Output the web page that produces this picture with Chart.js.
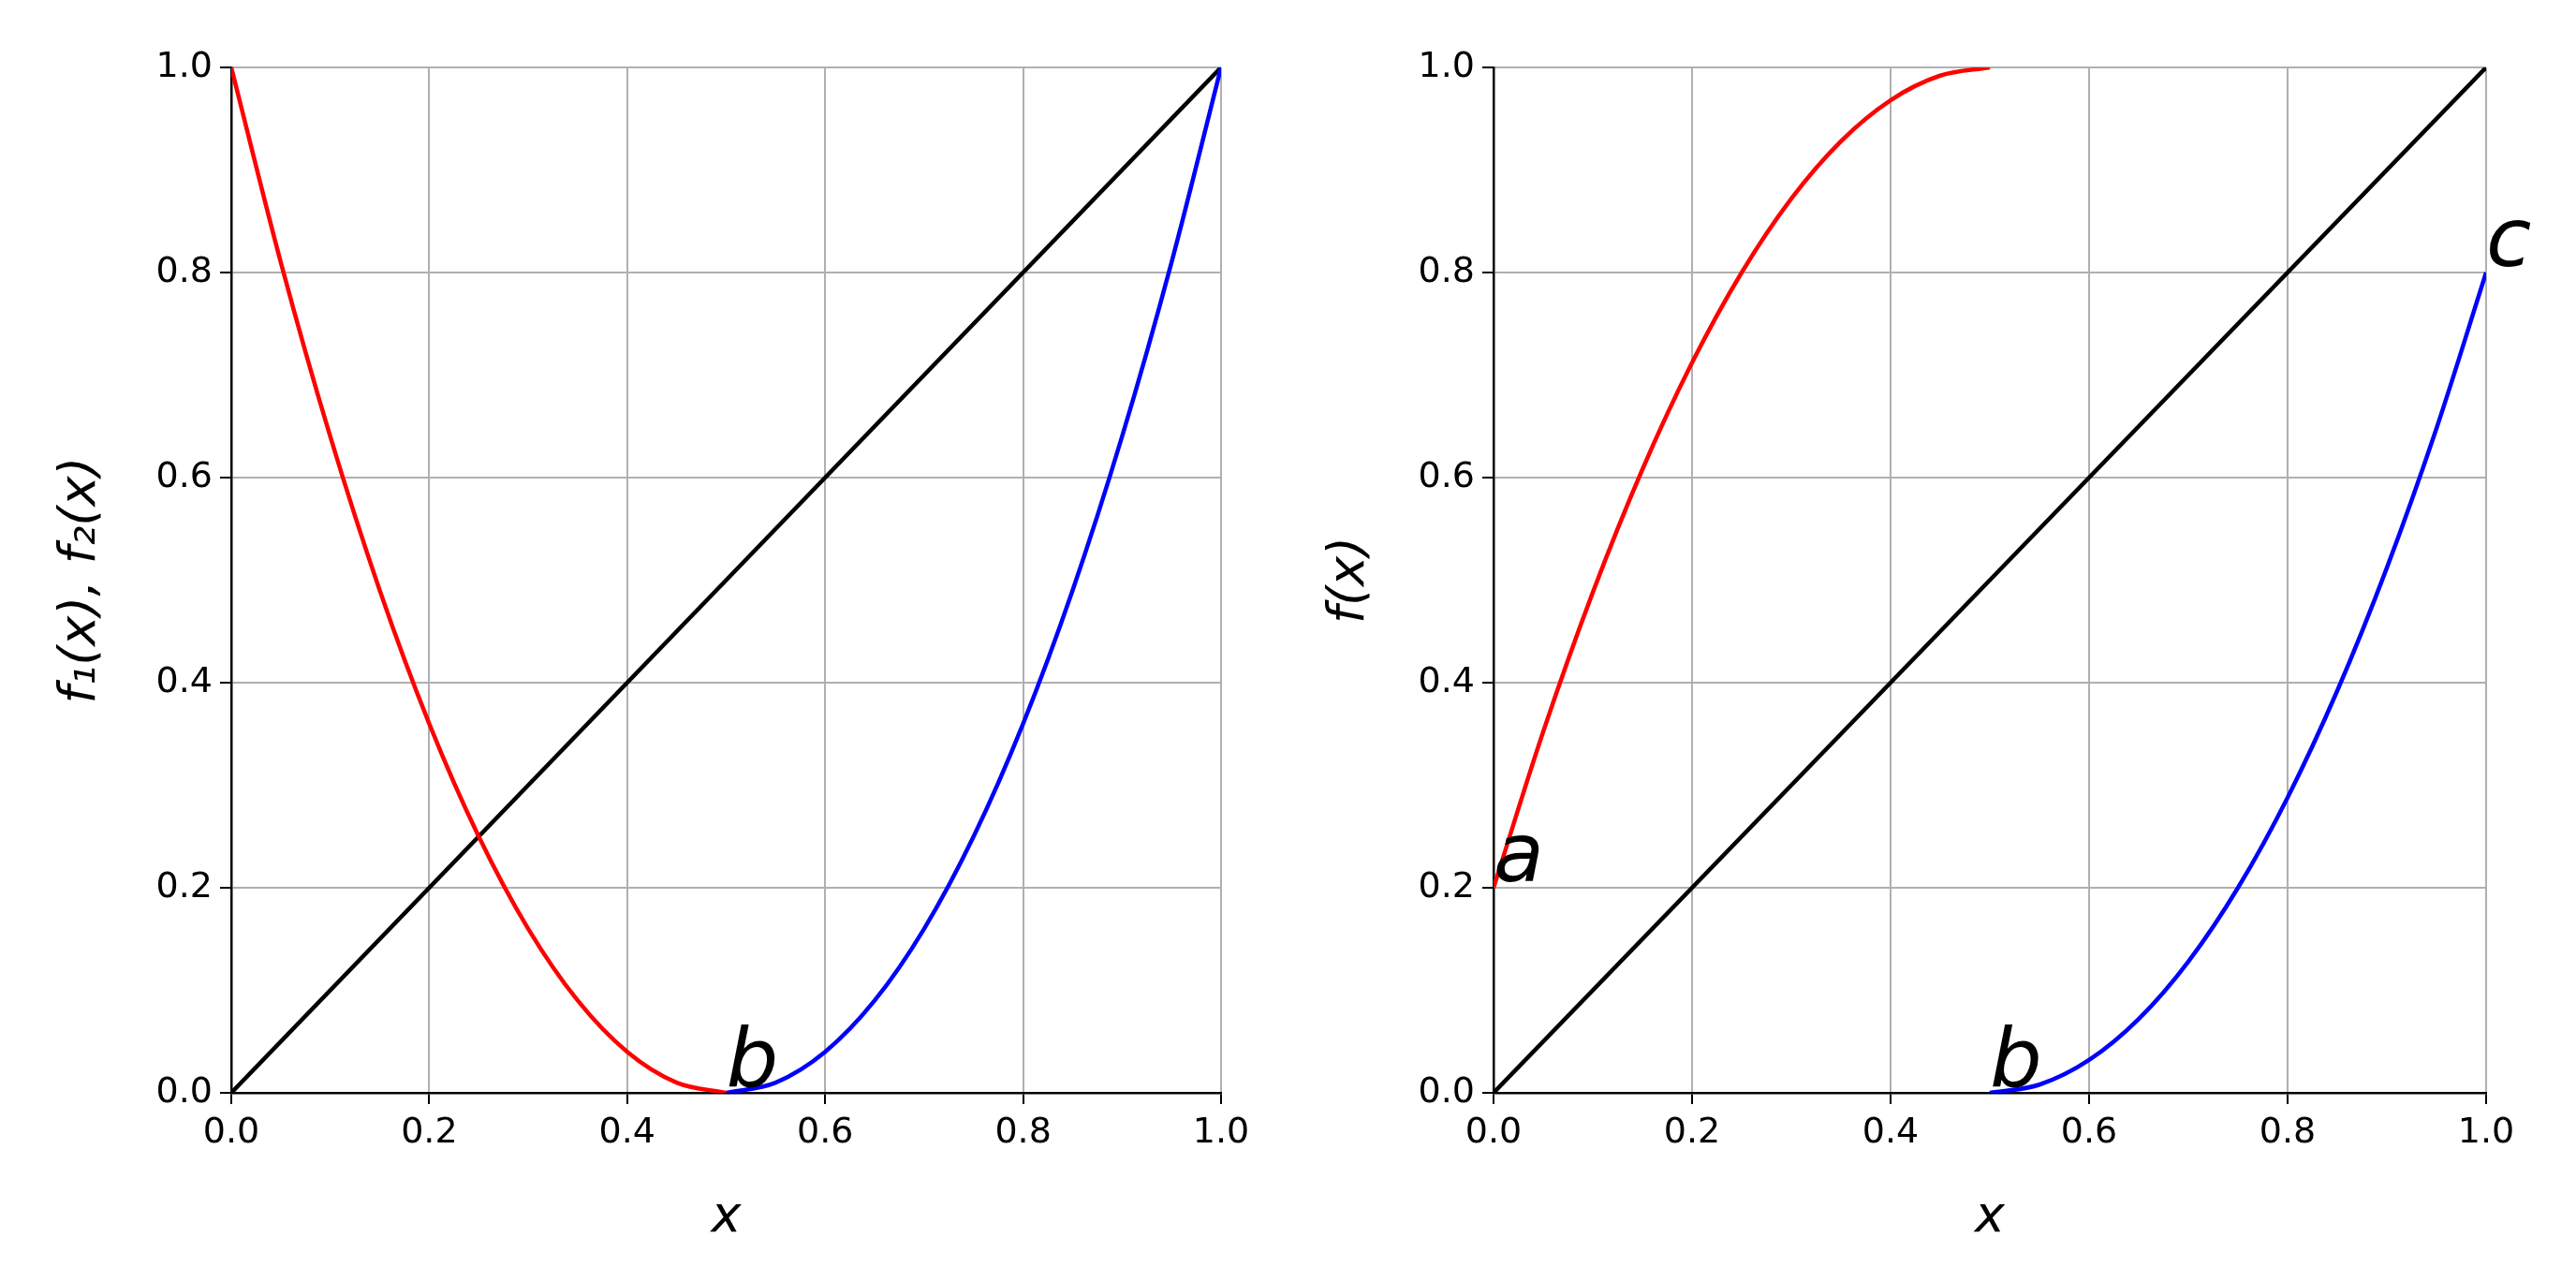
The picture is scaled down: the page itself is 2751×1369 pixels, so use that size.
<!DOCTYPE html>
<html><head>
<script src="https://cdn.jsdelivr.net/npm/chart.js@4"></script>
<style>
body{margin:0;background:#fff;width:2751px;height:1369px;position:relative;overflow:hidden}
.box{position:absolute;top:0;height:1369px}
</style></head>
<body>
<div class="box" style="left:0;width:1375px"><canvas id="c1"></canvas></div>
<div class="box" style="left:1375px;width:1376px"><canvas id="c2"></canvas></div>
<script>
// values
const xsLeft = [0,0.05,0.1,0.15,0.2,0.25,0.3,0.35,0.4,0.45,0.5];
const xsRight = [0.5,0.55,0.6,0.65,0.7,0.75,0.8,0.85,0.9,0.95,1];
const f1 = [1,0.81,0.64,0.49,0.36,0.25,0.16,0.09,0.04,0.01,0];
const f2 = [0,0.01,0.04,0.09,0.16,0.25,0.36,0.49,0.64,0.81,1];
const g1 = [0.2,0.352,0.488,0.608,0.712,0.8,0.872,0.928,0.968,0.992,1];
const g2 = [0,0.008,0.032,0.072,0.128,0.2,0.288,0.392,0.512,0.648,0.8];
const diag = [[0,0],[1,1]];
const ticks = [0,0.2,0.4,0.6,0.8,1];

const FONT = 'DejaVu Sans';
Chart.defaults.font.family = FONT;
Chart.defaults.color = '#000';

function pts(xs, ys){ return xs.map((x,i)=>({x, y:ys[i]})); }

const labelsPlugin = {
  id:'letters',
  afterDraw(chart){
    const ls = chart.options.plugins.letters.items || [];
    const c = chart.ctx, xs = chart.scales.x, ys = chart.scales.y;
    c.save();
    c.font = 'italic 88px ' + FONT;
    c.fillStyle = '#000';
    c.textBaseline = 'bottom';
    ls.forEach(l=>{
      c.textAlign = l.align || 'left';
      c.fillText(l.t, xs.getPixelForValue(l.x), ys.getPixelForValue(l.y) + 14);
    });
    c.restore();
  }
};

function axis(title, w, isY){
  return {
    type:'linear', min:0, max:1,
    afterBuildTicks(s){ s.ticks = ticks.map(v=>({value:v})); },
    ticks:{ font:{size:38}, padding:8, callback:v=>v.toFixed(1) },
    grid:{ color:'#b0b0b0', lineWidth:2, tickColor:'#000', tickLength:12 },
    border:{ color:'#000', width:2.5 },
    title:{ display:true, text:title, font:{size:54, style:'italic'}, padding:isY?{top:0,bottom:12}:{top:2} },
    afterFit(s){ if(isY) s.width = w; else s.height = w; }
  };
}

function make(id, red, blue, yTitle, padL, yW, letters, padR){
  new Chart(document.getElementById(id), {
    type:'line',
    data:{ datasets:[
      { data:red, borderColor:'#ff0000' },
      { data:blue, borderColor:'#0000ff' },
      { data:diag, borderColor:'#000000', tension:0 }
    ]},
    options:{
      responsive:true, maintainAspectRatio:false, animation:false,
      layout:{ padding:{ top:72, right:padR, left:padL, bottom:32 } },
      elements:{ point:{ radius:0 }, line:{ borderWidth:4.5, tension:0.4, cubicInterpolationMode:'monotone' } },
      scales:{ x:axis('x', 170, false), y:axis(yTitle, yW, true) },
      plugins:{ legend:{display:false}, tooltip:{enabled:false}, letters:{ items:letters } }
    },
    plugins:[labelsPlugin]
  });
}

make('c1', pts(xsLeft,f1), pts(xsRight,f2), 'f\u2081(x), f\u2082(x)', 55, 192,
  [{t:'b', x:0.5, y:0}], 71);
make('c2', pts(xsLeft,g1), pts(xsRight,g2), 'f(x)', 35, 185,
  [{t:'a', x:0, y:0.2}, {t:'b', x:0.5, y:0}, {t:'c', x:1, y:0.8}], 96);
</script>
</body></html>
